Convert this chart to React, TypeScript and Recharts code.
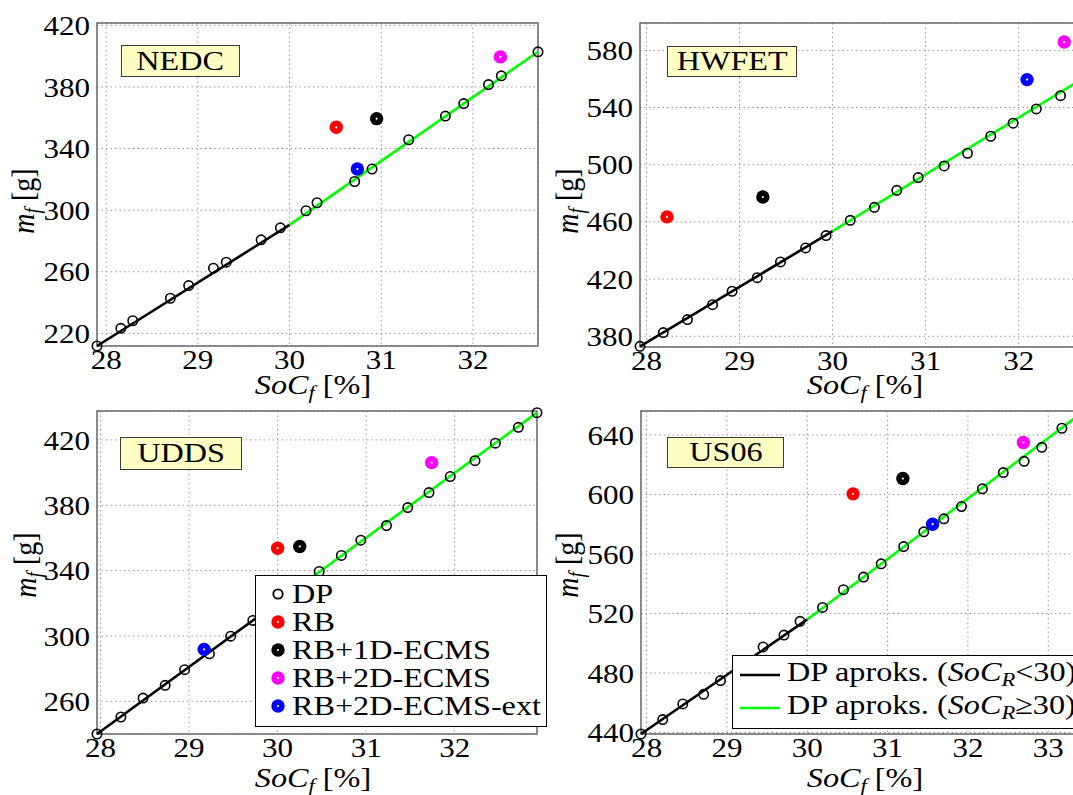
import React from 'react';
import {
  ScatterChart,
  Scatter,
  XAxis,
  YAxis,
  CartesianGrid,
  ReferenceArea,
  Legend,
} from 'recharts';

const FONT = '"Liberation Serif", "Times New Roman", serif';
// the reference figure is stretched horizontally, text too
const STRETCH = 1.15;

// strategy order: RB, RB+1D-ECMS, RB+2D-ECMS, RB+2D-ECMS-ext
const strategyNames = ['RB', 'RB+1D-ECMS', 'RB+2D-ECMS', 'RB+2D-ECMS-ext'];
const strategyColors = ['#ff0000', '#000000', '#ff00ff', '#0000ff'];

// NEDC
const nedcSoc = [27.9, 28.16, 28.29, 28.7, 28.9, 29.17, 29.31, 29.69, 29.9, 30.18, 30.3, 30.71, 30.9, 31.3, 31.7, 31.9, 32.17, 32.31, 32.71];
const nedcFuel = [211.8, 223.3, 228.2, 242.8, 251.0, 262.3, 266.2, 280.7, 288.5, 299.6, 304.8, 318.6, 326.7, 345.7, 361.1, 369.2, 381.5, 387.2, 402.8];
const nedcStratSoc = [30.51, 30.95, 32.3, 30.74];
const nedcStratFuel = [353.8, 359.4, 399.5, 326.7];
const nedcFitSoc = [27.9, 30.0, 32.71];
const nedcFitFuel = [211.8, 290.4, 402.8];

// HWFET
const hwfetSoc = [27.93, 28.18, 28.44, 28.71, 28.92, 29.19, 29.44, 29.71, 29.93, 30.19, 30.45, 30.69, 30.92, 31.2, 31.45, 31.7, 31.94, 32.19, 32.45, 32.66];
const hwfetFuel = [373.0, 382.6, 391.7, 402.1, 411.5, 421.0, 432.0, 441.8, 450.4, 461.1, 470.2, 482.1, 491.0, 499.1, 508.0, 519.9, 529.0, 539.0, 548.3, 559.0];
const hwfetStratSoc = [28.22, 29.25, 32.49, 32.09];
const hwfetStratFuel = [463.5, 477.4, 585.8, 559.5];
const hwfetFitSoc = [27.93, 30.0, 32.67];
const hwfetFitFuel = [373.0, 453.5, 559.5];

// UDDS
const uddsSoc = [27.96, 28.23, 28.48, 28.73, 28.95, 29.23, 29.47, 29.72, 29.97, 30.22, 30.47, 30.72, 30.94, 31.23, 31.47, 31.71, 31.95, 32.23, 32.46, 32.72, 32.93];
const uddsFuel = [240.0, 250.4, 262.0, 269.8, 279.4, 289.1, 299.9, 309.5, 319.4, 329.3, 339.5, 349.3, 358.6, 367.6, 378.6, 387.8, 397.6, 407.3, 418.0, 427.7, 436.7];
const uddsStratSoc = [30.0, 30.25, 31.74, 29.17];
const uddsStratFuel = [353.7, 354.8, 406.1, 291.8];
const uddsFitSoc = [27.96, 30.0, 32.93];
const uddsFitFuel = [240.0, 320.5, 436.7];

// US06
const us06Soc = [27.93, 28.2, 28.45, 28.71, 28.92, 29.18, 29.45, 29.71, 29.91, 30.19, 30.45, 30.7, 30.92, 31.2, 31.45, 31.7, 31.92, 32.18, 32.44, 32.7, 32.92, 33.17, 33.42];
const us06Fuel = [439.0, 448.7, 459.2, 465.7, 474.9, 486.0, 497.5, 505.5, 514.7, 524.1, 536.0, 544.5, 553.4, 565.0, 574.9, 583.6, 591.9, 603.8, 614.7, 622.3, 631.7, 644.5, 655.0];
const us06StratSoc = [30.57, 31.19, 32.69, 31.56];
const us06StratFuel = [600.4, 610.7, 634.9, 580.0];
const us06FitSoc = [27.93, 30.0, 33.42];
const us06FitFuel = [439.0, 516.0, 655.0];

const DpMarker = (p: any) => (
  <circle cx={p.cx} cy={p.cy} r={4.7} fill="none" stroke="#000" strokeWidth={1.6} />
);

const makeDot = (color: string) => (p: any) => (
  <g>
    <circle cx={p.cx} cy={p.cy} r={6.7} fill={color} />
    <circle cx={p.cx} cy={p.cy} r={1.1} fill="#fff" />
  </g>
);

const noShape = () => <g />;

const XTick = (props: any) => (
  <g transform={`translate(${props.x},${props.y}) scale(${STRETCH},1)`}>
    <text textAnchor="middle" dy="0.71em" fontSize={27} fontFamily={FONT} fill="#000">
      {props.payload.value}
    </text>
  </g>
);

const YTick = (props: any) => (
  <g transform={`translate(${props.x},${props.y}) scale(${STRETCH},1)`}>
    <text textAnchor="end" dy="0.355em" fontSize={27} fontFamily={FONT} fill="#000">
      {props.payload.value}
    </text>
  </g>
);

const wide: React.CSSProperties = {
  display: 'inline-block',
  transform: `scaleX(${STRETCH})`,
  transformOrigin: 'left center',
  whiteSpace: 'nowrap',
};

const SocLabel = ({ sub }: { sub: string }) => (
  <span>
    <i>SoC</i>
    <i style={{ fontSize: '0.7em', verticalAlign: '-0.25em' }}>{sub}</i>
  </span>
);

function MarkerLegend() {
  const items = ['DP', ...strategyNames];
  return (
    <div
      style={{
        width: 292,
        height: 152,
        boxSizing: 'border-box',
        border: '1.5px solid #000',
        background: '#fff',
        fontFamily: FONT,
        fontSize: 28,
        color: '#000',
        paddingTop: 4,
      }}
    >
      {items.map((name, i) => (
        <div key={name} style={{ display: 'flex', alignItems: 'center', height: 28, lineHeight: '28px' }}>
          <svg width={36} height={28} style={{ flex: 'none' }}>
            {i === 0 ? (
              <circle cx={22} cy={14} r={4.7} fill="none" stroke="#000" strokeWidth={1.8} />
            ) : (
              <g>
                <circle cx={22} cy={14} r={6.7} fill={strategyColors[i - 1]} />
                <circle cx={22} cy={14} r={1.1} fill="#fff" />
              </g>
            )}
          </svg>
          <span style={wide}>{name}</span>
        </div>
      ))}
    </div>
  );
}

function LineLegend() {
  const rows = [
    { color: '#000000', op: '<' },
    { color: '#00ff00', op: '\u2265' },
  ];
  return (
    <div
      style={{
        width: 420,
        height: 74,
        boxSizing: 'border-box',
        border: '1.5px solid #000',
        background: '#fff',
        fontFamily: FONT,
        fontSize: 28,
        color: '#000',
        paddingTop: 3,
      }}
    >
      {rows.map((r) => (
        <div key={r.op} style={{ display: 'flex', alignItems: 'center', height: 33, lineHeight: '33px' }}>
          <svg width={54} height={33} style={{ flex: 'none' }}>
            <line x1={7} x2={47} y1={16} y2={16} stroke={r.color} strokeWidth={2.6} />
          </svg>
          <span style={wide}>
            DP aproks. (<SocLabel sub="R" />{r.op}30)
          </span>
        </div>
      ))}
    </div>
  );
}

type PanelProps = {
  title: string;
  left: number;
  top: number;
  margin: { top: number; right: number; bottom: number; left: number };
  soc: number[];
  fuel: number[];
  stratSoc: number[];
  stratFuel: number[];
  fitSoc: number[];
  fitFuel: number[];
  xDomain: [number, number];
  yDomain: [number, number];
  xTicks: number[];
  yTicks: number[];
  titleBox: { left: number; top: number; width: number; height: number };
  legend?: 'markers' | 'lines';
  legendPos?: { left: number; top: number };
};

function Panel(p: PanelProps) {
  const dp = p.soc.map((s, i) => ({ soc: s, fuel: p.fuel[i] }));
  const fitLow = [0, 1].map((i) => ({ soc: p.fitSoc[i], fuel: p.fitFuel[i] }));
  const fitHigh = [1, 2].map((i) => ({ soc: p.fitSoc[i], fuel: p.fitFuel[i] }));

  return (
    <div style={{ position: 'absolute', left: p.left, top: p.top }}>
      <ScatterChart width={560} height={400} margin={p.margin}>
        <CartesianGrid stroke="#999" strokeDasharray="1.5 3" />
        <XAxis
          type="number"
          dataKey="soc"
          domain={p.xDomain}
          ticks={p.xTicks}
          interval={0}
          height={40}
          tickSize={0}
          tickMargin={4}
          axisLine={false}
          tickLine={false}
          tick={<XTick />}
        />
        <YAxis
          type="number"
          dataKey="fuel"
          domain={p.yDomain}
          ticks={p.yTicks}
          interval={0}
          width={60}
          tickSize={0}
          tickMargin={7}
          axisLine={false}
          tickLine={false}
          tick={<YTick />}
        />
        <ReferenceArea
          x1={p.xDomain[0]}
          x2={p.xDomain[1]}
          y1={p.yDomain[0]}
          y2={p.yDomain[1]}
          fill="none"
          stroke="#6a6a6a"
          strokeWidth={1.5}
          ifOverflow="visible"
        />
        <Scatter
          name="DP aproks. (SoC_R<30)"
          data={fitLow}
          line={{ stroke: '#000', strokeWidth: 2.6 }}
          shape={noShape}
          legendType="none"
          isAnimationActive={false}
        />
        <Scatter
          name="DP aproks. (SoC_R>=30)"
          data={fitHigh}
          line={{ stroke: '#00ff00', strokeWidth: 2.6 }}
          shape={noShape}
          legendType="none"
          isAnimationActive={false}
        />
        <Scatter name="DP" data={dp} shape={DpMarker} legendType="none" isAnimationActive={false} />
        {strategyNames.map((name, i) => (
          <Scatter
            key={name}
            name={name}
            data={[{ soc: p.stratSoc[i], fuel: p.stratFuel[i] }]}
            shape={makeDot(strategyColors[i])}
            legendType="none"
            isAnimationActive={false}
          />
        ))}
        {p.legend && (
          <Legend
            layout="vertical"
            align="center"
            verticalAlign="middle"
            content={p.legend === 'markers' ? MarkerLegend : LineLegend}
            wrapperStyle={{ left: p.legendPos!.left, top: p.legendPos!.top, width: 'auto', height: 'auto', margin: 0 }}
          />
        )}
      </ScatterChart>
      <div
        style={{
          position: 'absolute',
          left: p.titleBox.left,
          top: p.titleBox.top,
          width: p.titleBox.width,
          height: p.titleBox.height,
          boxSizing: 'border-box',
          background: '#ffffc4',
          border: '1.5px solid #3a3a3a',
          fontFamily: FONT,
          fontSize: 28,
          lineHeight: `${p.titleBox.height - 3}px`,
          textAlign: 'center',
          color: '#000',
        }}
      >
        <span style={{ display: 'inline-block', transform: `scaleX(${STRETCH})` }}>{p.title}</span>
      </div>
    </div>
  );
}

const labelBase: React.CSSProperties = {
  position: 'absolute',
  fontFamily: FONT,
  fontSize: 28,
  lineHeight: 1,
  whiteSpace: 'nowrap',
  color: '#000',
};

function YLabel({ cx, cy }: { cx: number; cy: number }) {
  return (
    <div
      style={{
        ...labelBase,
        left: cx,
        top: cy,
        transform: `translate(-50%, -50%) rotate(-90deg) scaleY(${STRETCH})`,
      }}
    >
      <i>m</i>
      <i style={{ fontSize: '0.7em', verticalAlign: '-0.25em' }}>f</i> [g]
    </div>
  );
}

function XLabel({ cx, cy }: { cx: number; cy: number }) {
  return (
    <div style={{ ...labelBase, left: cx, top: cy, transform: `translate(-50%, -50%) scaleX(${STRETCH})` }}>
      <SocLabel sub="f" /> [%]
    </div>
  );
}

export default function App() {
  return (
    <div
      style={{
        position: 'absolute',
        left: 0,
        top: 0,
        width: 1073,
        height: 795,
        overflow: 'hidden',
        background: '#fff',
      }}
    >
      <Panel
        title="NEDC"
        left={0}
        top={0}
        margin={{ top: 23, right: 22, bottom: 14, left: 37 }}
        soc={nedcSoc}
        fuel={nedcFuel}
        stratSoc={nedcStratSoc}
        stratFuel={nedcStratFuel}
        fitSoc={nedcFitSoc}
        fitFuel={nedcFitFuel}
        xDomain={[27.9, 32.71]}
        yDomain={[211.8, 421.5]}
        xTicks={[28, 29, 30, 31, 32]}
        yTicks={[220, 260, 300, 340, 380, 420]}
        titleBox={{ left: 121, top: 45, width: 119, height: 32 }}
      />
      <Panel
        title="HWFET"
        left={540}
        top={0}
        margin={{ top: 23, right: 19, bottom: 13, left: 40 }}
        soc={hwfetSoc}
        fuel={hwfetFuel}
        stratSoc={hwfetStratSoc}
        stratFuel={hwfetStratFuel}
        fitSoc={hwfetFitSoc}
        fitFuel={hwfetFitFuel}
        xDomain={[27.93, 32.67]}
        yDomain={[372.5, 599.1]}
        xTicks={[28, 29, 30, 31, 32]}
        yTicks={[380, 420, 460, 500, 540, 580]}
        titleBox={{ left: 127, top: 46, width: 130, height: 31 }}
      />
      <Panel
        title="UDDS"
        left={0}
        top={395}
        margin={{ top: 16, right: 23, bottom: 21, left: 37 }}
        soc={uddsSoc}
        fuel={uddsFuel}
        stratSoc={uddsStratSoc}
        stratFuel={uddsStratFuel}
        fitSoc={uddsFitSoc}
        fitFuel={uddsFitFuel}
        xDomain={[27.96, 32.93]}
        yDomain={[240.0, 437.7]}
        xTicks={[28, 29, 30, 31, 32]}
        yTicks={[260, 300, 340, 380, 420]}
        titleBox={{ left: 120, top: 42, width: 122, height: 33 }}
        legend="markers"
        legendPos={{ left: 255, top: 180 }}
      />
      <Panel
        title="US06"
        left={540}
        top={395}
        margin={{ top: 16, right: 18, bottom: 21, left: 41 }}
        soc={us06Soc}
        fuel={us06Fuel}
        stratSoc={us06StratSoc}
        stratFuel={us06StratFuel}
        fitSoc={us06FitSoc}
        fitFuel={us06FitFuel}
        xDomain={[27.93, 33.42]}
        yDomain={[439.0, 656.1]}
        xTicks={[28, 29, 30, 31, 32, 33]}
        yTicks={[440, 480, 520, 560, 600, 640]}
        titleBox={{ left: 127, top: 42, width: 117, height: 31 }}
        legend="lines"
        legendPos={{ left: 192, top: 260 }}
      />
      <YLabel cx={26} cy={201} />
      <YLabel cx={570} cy={201} />
      <YLabel cx={28} cy={565} />
      <YLabel cx={570} cy={565} />
      <XLabel cx={313} cy={387} />
      <XLabel cx={865} cy={387} />
      <XLabel cx={313} cy={780} />
      <XLabel cx={865} cy={780} />
    </div>
  );
}
